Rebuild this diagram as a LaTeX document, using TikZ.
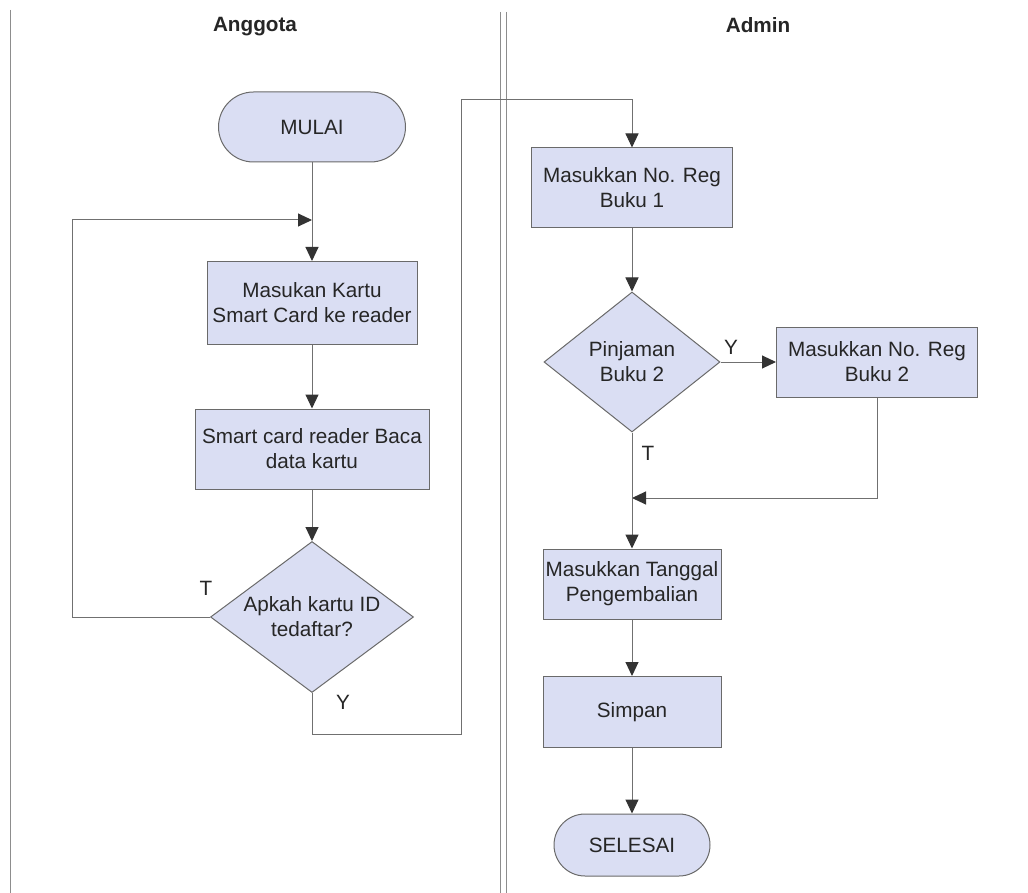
\documentclass[tikz,border=0pt]{standalone}
\usepackage{fontspec}
\setmainfont{Liberation Sans}
\usetikzlibrary{shapes.geometric,arrows.meta}
\definecolor{boxfill}{HTML}{DADEF3}
\definecolor{boxline}{HTML}{6A6A6A}
\definecolor{conn}{HTML}{707070}
\definecolor{tipc}{HTML}{333333}
\begin{document}
\begin{tikzpicture}[x=0.5pt,y=-0.5pt,
  every node/.style={font=\fontsize{10.35}{12.5}\selectfont, text=black!85},
  proc/.style={draw=boxline, fill=boxfill, line width=0.5pt, rectangle, align=center, inner sep=0pt},
  term/.style={draw=boxline, fill=boxfill, line width=0.5pt, rectangle, rounded corners=15pt, align=center, inner sep=0pt},
  dec/.style={draw=boxline, fill=boxfill, line width=0.5pt, diamond, align=center, inner sep=0pt},
  flow/.style={draw=conn, line width=0.5pt, -{Triangle[length=7pt,width=6.5pt,fill=tipc,color=tipc]}},
  plain/.style={draw=conn, line width=0.5pt},
  lane/.style={draw=conn!80, line width=0.5pt},
  lbl/.style={inner sep=0pt},
  title/.style={font=\fontsize{10.35}{12.5}\selectfont\bfseries, inner sep=0pt}]
\useasboundingbox (0,0) rectangle (1028,893);
% swimlanes
\draw[lane] (10,10) -- (10,893);
\draw[lane] (500,12) -- (500,893);
\draw[lane] (506,12) -- (506,893);
\node[title] (tA) at (255,27) {Anggota};
\node[title] (tB) at (758,25) {Admin};
% Anggota
\node[term, minimum width=93.5pt, minimum height=35pt, rounded corners=17.5pt] (start) at (312,127) {MULAI};
\node[proc, minimum width=105pt, minimum height=41.5pt] (b1) at (312,303) {Masukan Kartu\\Smart Card ke reader};
\node[proc, minimum width=117pt, minimum height=40pt] (b2) at (312,449) {Smart card reader Baca\\data kartu};
\node[dec, minimum width=101.5pt, minimum height=75.5pt, shape aspect=1.35] (d1) at (312,617) {Apkah kartu ID\\tedaftar?};
% Admin
\node[proc, minimum width=100.5pt, minimum height=40pt] (a1) at (632,188) {Masukkan No. Reg\\Buku 1};
\node[dec, minimum width=88pt, minimum height=70pt, shape aspect=1.26] (d2) at (632,362) {Pinjaman\\Buku 2};
\node[proc, minimum width=100.5pt, minimum height=35pt] (a3) at (877,362) {Masukkan No. Reg\\Buku 2};
\node[proc, minimum width=89pt, minimum height=35pt] (a4) at (632,584) {Masukkan Tanggal\\Pengembalian};
\node[proc, minimum width=89pt, minimum height=35.5pt] (a5) at (632,712) {Simpan};
\node[term, minimum width=78pt, minimum height=31pt, rounded corners=15.5pt] (stop) at (632,845) {SELESAI};
% coordinates
\coordinate (m1) at (312,220);
\coordinate (m2) at (632,498);
% connectors
\draw[flow] (start.south) -- (b1.north);
\draw[flow] (d1.west) -- (72,617) -- (72,220) -- (m1);
\draw[flow] (b1.south) -- (b2.north);
\draw[flow] (b2.south) -- (d1.north);
\draw[flow] (d1.south) -- (312,734) -- (461,734) -- (461,100) -- (632,100) -- (a1.north);
\draw[flow] (a1.south) -- (d2.north);
\draw[flow] (d2.east) -- (a3.west);
\draw[flow] (a3.south) -- (877,498) -- (m2);
\draw[flow] (d2.south) -- (a4.north);
\draw[flow] (a4.south) -- (a5.north);
\draw[flow] (a5.south) -- (stop.north);
% labels
\node[lbl] (lT1) at (206,588) {T};
\node[lbl] (lY1) at (343,702) {Y};
\node[lbl] (lY2) at (731,347) {Y};
\node[lbl] (lT2) at (648,453) {T};
\end{tikzpicture}
\end{document}
